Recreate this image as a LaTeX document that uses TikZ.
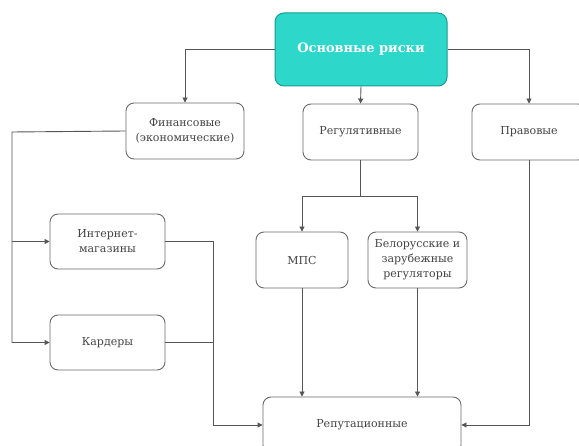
\documentclass[tikz,border=0pt]{standalone}
\usepackage{fontspec}
\setmainfont{DejaVu Serif}
\newfontfamily\boxfont{DejaVu Serif}
\usetikzlibrary{arrows.meta}
\definecolor{tealfill}{HTML}{2DD8CB}
\definecolor{tealedge}{HTML}{179C92}
\definecolor{linegray}{HTML}{555555}
\definecolor{boxgray}{HTML}{6A6A6A}
\definecolor{txtgray}{HTML}{444444}
\begin{document}
\begin{tikzpicture}[x=1pt,y=-1pt,
  box/.style={draw=boxgray, line width=0.9pt, rounded corners=8pt, fill=white,
    align=center, inner sep=2pt, text=txtgray, font=\boxfont\fontsize{11}{15}\selectfont},
  topbox/.style={draw=tealedge, line width=1pt, rounded corners=9pt, fill=tealfill,
    align=center, text=white, font=\boxfont\fontsize{13}{17}\selectfont\bfseries},
  conn/.style={draw=linegray, line width=0.9pt},
  arr/.style={conn, -{Triangle[width=5pt,length=5pt]}}]
\useasboundingbox (0,0) rectangle (579,446);
\fill[white] (0,0) rectangle (579,446);
\clip (0,0) rectangle (579,446);

\node[topbox, minimum width=172pt, minimum height=73pt] (top) at (361,49.5) {Основные риски};
\node[box, minimum width=118pt, minimum height=56pt] (fin) at (185,131) {Финансовые\\(экономические)};
\node[box, minimum width=115pt, minimum height=56pt] (reg) at (360.5,132) {Регулятивные};
\node[box, minimum width=114pt, minimum height=56pt] (prav) at (529,132) {Правовые};
\node[box, minimum width=115pt, minimum height=55pt] (inet) at (107.5,241.5) {Интернет-\\магазины};
\node[box, minimum width=115pt, minimum height=55pt] (kard) at (107.5,342.5) {Кардеры};
\node[box, minimum width=92pt, minimum height=56pt] (mps) at (302,260) {МПС};
\node[box, minimum width=99pt, minimum height=56pt] (bel) at (417.5,260) {Белорусские и\\зарубежные\\регуляторы};
\node[box, minimum width=198pt, minimum height=56pt] (rep) at (362,425) {Репутационные};

\coordinate (lx) at (12,132);
\coordinate (rs) at (360.5,196);
\coordinate (mx) at (213,241.5);

\draw[arr] (top.west) -| (fin.north);
\draw[arr] (top.south) -- (reg.north);
\draw[arr] (top.east) -| (prav.north);

\draw[arr] (fin.west) -- (lx) |- (kard.west);
\draw[arr] (lx |- inet.west) -- (inet.west);

\draw[conn] (reg.south) -- (rs);
\draw[arr] (rs) -| (mps.north);
\draw[arr] (rs) -| (bel.north);

\draw[arr] (mps.south) -- (mps.south |- rep.north);
\draw[arr] (bel.south) -- (bel.south |- rep.north);

\draw[conn] (inet.east) -- (mx);
\draw[conn] (kard.east) -- (mx |- kard.east);
\draw[arr] (mx) |- (rep.west);

\draw[arr] (prav.south) |- (rep.east);
\end{tikzpicture}
\end{document}
